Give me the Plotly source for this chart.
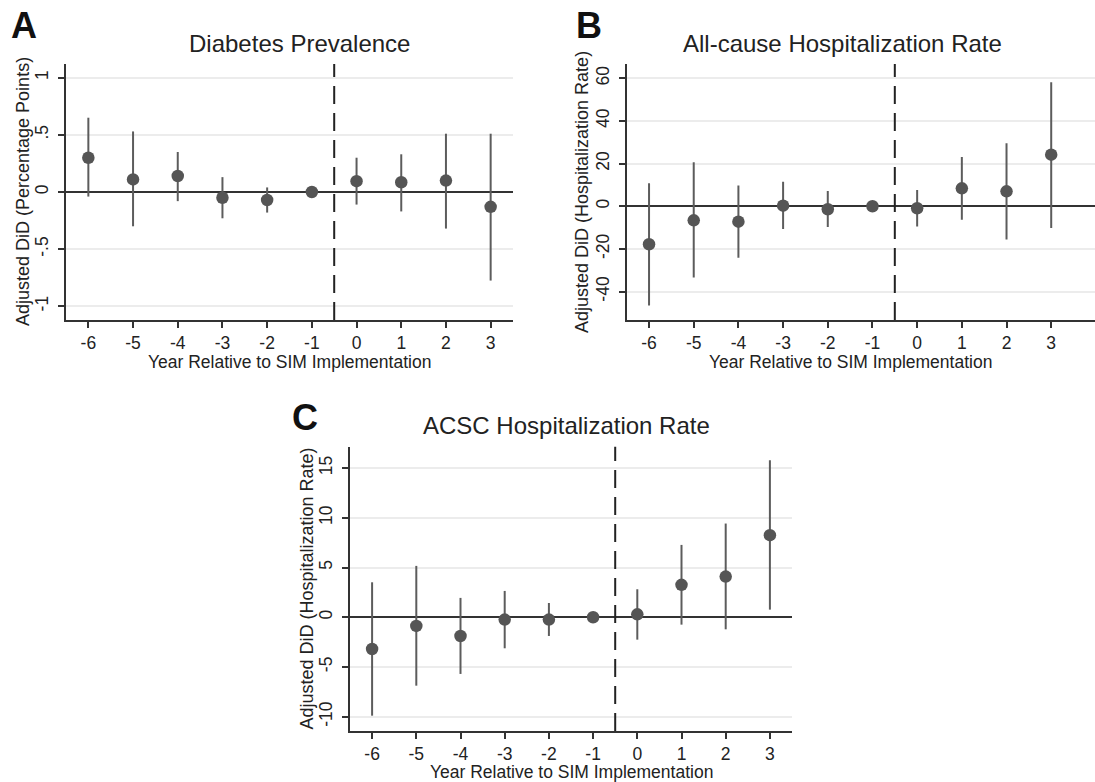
import plotly.graph_objects as go

# ---------------- data ----------------
years = [-6, -5, -4, -3, -2, -1, 0, 1, 2, 3]
year_labels = ["-6", "-5", "-4", "-3", "-2", "-1", "0", "1", "2", "3"]

diab_est = [0.30, 0.11, 0.14, -0.05, -0.07, 0.00, 0.095, 0.085, 0.10, -0.13]
diab_lo = [-0.04, -0.30, -0.08, -0.23, -0.18, 0.00, -0.11, -0.17, -0.32, -0.775]
diab_hi = [0.65, 0.53, 0.35, 0.13, 0.04, 0.00, 0.30, 0.33, 0.51, 0.51]

hosp_est = [-17.8, -6.6, -7.2, 0.3, -1.4, 0.0, -0.9, 8.4, 7.0, 24.2]
hosp_lo = [-46.5, -33.4, -24.1, -10.6, -9.7, 0.0, -9.5, -6.3, -15.6, -10.2]
hosp_hi = [10.8, 20.6, 9.7, 11.5, 7.2, 0.0, 7.6, 23.1, 29.6, 58.1]

acsc_est = [-3.19, -0.87, -1.88, -0.23, -0.23, 0.0, 0.30, 3.26, 4.09, 8.26]
acsc_lo = [-9.9, -6.88, -5.7, -3.12, -1.88, 0.0, -2.25, -0.74, -1.21, 0.77]
acsc_hi = [3.52, 5.17, 1.95, 2.65, 1.44, 0.0, 2.82, 7.28, 9.43, 15.8]

diab_ticks = [-1, -0.5, 0, 0.5, 1]
diab_ticktext = ["-1", "-.5", "0", ".5", "1"]
hosp_ticks = [-40, -20, 0, 20, 40, 60]
hosp_ticktext = ["-40", "-20", "0", "20", "40", "60"]
acsc_ticks = [-10, -5, 0, 5, 10, 15]
acsc_ticktext = ["-10", "-5", "0", "5", "10", "15"]

implementation_line = -0.5

titles = ["Diabetes Prevalence", "All-cause Hospitalization Rate", "ACSC Hospitalization Rate"]
panel_letters = ["A", "B", "C"]
x_title = "Year Relative to SIM Implementation"
y_titles = ["Adjusted DiD (Percentage Points)",
            "Adjusted DiD (Hospitalization Rate)",
            "Adjusted DiD (Hospitalization Rate)"]

# ---------------- layout helpers ----------------
W, H = 1095, 782
FONT = "Liberation Sans, Arial, Helvetica, sans-serif"
TXT = "#222222"
DOT = "#555555"


def fx(px):
    return px / W


def fy(py):
    return 1 - py / H


fig = go.Figure()

panels = [
    dict(est=diab_est, lo=diab_lo, hi=diab_hi, tv=diab_ticks, tt=diab_ticktext,
         yr=[-1.12, 1.12], xr=[-6.5, 3.5],
         xd=[fx(66), fx(513)], yd=[fy(320), fy(64)],
         title_xy=(299, 43), letter_xy=(24, 25), ytitle_x=23, xtitle_xy=(289, 362)),
    dict(est=hosp_est, lo=hosp_lo, hi=hosp_hi, tv=hosp_ticks, tt=hosp_ticktext,
         yr=[-53.3, 66.7], xr=[-6.5, 3.98],
         xd=[fx(626.7), 1.0], yd=[fy(320), fy(64)],
         title_xy=(842, 43), letter_xy=(589, 25), ytitle_x=582, xtitle_xy=(850, 362)),
    dict(est=acsc_est, lo=acsc_lo, hi=acsc_hi, tv=acsc_ticks, tt=acsc_ticktext,
         yr=[-11.44, 17.16], xr=[-6.5, 3.5],
         xd=[fx(350), fx(792)], yd=[fy(731), fy(446.7)],
         title_xy=(566, 425), letter_xy=(305, 417), ytitle_x=306.7, xtitle_xy=(571, 772)),
]

annotations = []
shapes = []
for i, p in enumerate(panels):
    n = "" if i == 0 else str(i + 1)
    xa, ya = "x" + n, "y" + n
    plus = [h - e for h, e in zip(p["hi"], p["est"])]
    minus = [e - l for e, l in zip(p["est"], p["lo"])]
    fig.add_trace(go.Scatter(
        x=years, y=p["est"], mode="markers", xaxis=xa, yaxis=ya,
        marker=dict(size=12.5, color=DOT),
        error_y=dict(type="data", array=plus, arrayminus=minus, visible=True,
                     width=0, thickness=2, color="#5c5c5c"),
        showlegend=False, hoverinfo="x+y",
    ))
    axis_common = dict(showline=True, linecolor="#333333", linewidth=1.5,
                       ticks="outside", ticklen=6, tickwidth=1.5, tickcolor="#333333",
                       tickfont=dict(family=FONT, size=17.5, color=TXT))
    fig.update_layout(**{
        ("xaxis" + n): dict(domain=p["xd"], anchor=ya, range=p["xr"],
                            tickvals=years, ticktext=year_labels,
                            showgrid=False, zeroline=False, **axis_common),
        ("yaxis" + n): dict(domain=p["yd"], anchor=xa, range=p["yr"],
                            tickvals=p["tv"], ticktext=p["tt"], tickangle=-90,
                            ticklabelstandoff=3,
                            showgrid=True, gridcolor="#ececec", gridwidth=1.5,
                            zeroline=True, zerolinecolor="#333333", zerolinewidth=2,
                            **axis_common),
    })
    shapes.append(dict(type="line", xref=xa, yref=ya + " domain",
                       x0=implementation_line, x1=implementation_line, y0=0, y1=1,
                       line=dict(color="#222222", width=2, dash="18px,9px")))
    tx, ty = p["title_xy"]
    annotations.append(dict(text=titles[i], x=fx(tx), y=fy(ty), xref="paper", yref="paper",
                            showarrow=False, xanchor="center", yanchor="middle",
                            font=dict(family=FONT, size=24, color=TXT)))
    lx, ly = p["letter_xy"]
    annotations.append(dict(text="<b>" + panel_letters[i] + "</b>", x=fx(lx), y=fy(ly),
                            xref="paper", yref="paper", showarrow=False,
                            xanchor="center", yanchor="middle",
                            font=dict(family=FONT, size=36, color="#111111")))
    yc = (p["yd"][0] + p["yd"][1]) / 2
    annotations.append(dict(text=y_titles[i], x=fx(p["ytitle_x"]), y=yc,
                            xref="paper", yref="paper", showarrow=False, textangle=-90,
                            xanchor="center", yanchor="middle",
                            font=dict(family=FONT, size=18, color=TXT)))
    xx, xy = p["xtitle_xy"]
    annotations.append(dict(text=x_title, x=fx(xx), y=fy(xy), xref="paper", yref="paper",
                            showarrow=False, xanchor="center", yanchor="middle",
                            font=dict(family=FONT, size=17.5, color=TXT)))

fig.update_layout(width=W, height=H, margin=dict(l=0, r=0, t=0, b=0),
                  paper_bgcolor="white", plot_bgcolor="white",
                  annotations=annotations, shapes=shapes,
                  font=dict(family=FONT, color=TXT))

fig.write_html("out.html", config={"displayModeBar": False},
               post_script="document.body.style.margin='0px';")
